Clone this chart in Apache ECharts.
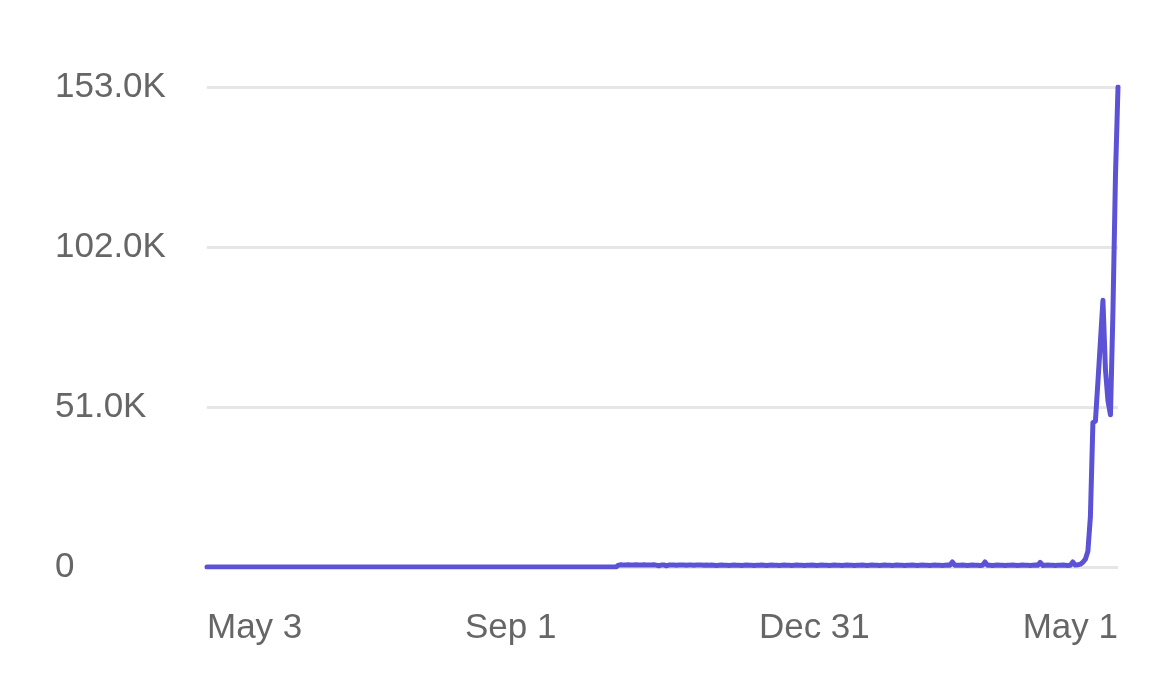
<!DOCTYPE html>
<html>
<head>
<meta charset="utf-8">
<script src="https://cdn.jsdelivr.net/npm/echarts@6/dist/echarts.min.js"></script>
<style>
  html, body { margin: 0; padding: 0; background: #ffffff; }
  #chart { width: 1170px; height: 683px; }
</style>
</head>
<body>
<div id="chart"></div>
<script>
// Daily series starting May 3 (2022) through May 1 (2023)
const startDate = [2022, 4, 3]; // year, monthIndex, day
const values = [
  0,0,0,0,0,0,0,0,0,0,0,0,0,0,0,0,0,0,0,0,
  0,0,0,0,0,0,0,0,0,0,0,0,0,0,0,0,0,0,0,0,
  0,0,0,0,0,0,0,0,0,0,0,0,0,0,0,0,0,0,0,0,
  0,0,0,0,0,0,0,0,0,0,0,0,0,0,0,0,0,0,0,0,
  0,0,0,0,0,0,0,0,0,0,0,0,0,0,0,0,0,0,0,0,
  0,0,0,0,0,0,0,0,0,0,0,0,0,0,0,0,0,0,0,0,
  0,0,0,0,0,0,0,0,0,0,0,0,0,0,0,0,0,0,0,0,
  0,0,0,0,0,0,0,0,0,0,0,0,0,0,0,0,0,0,0,0,
  0,0,0,0,600,700,600,650,700,600,650,700,650,600,700,650,600,650,700,600,
  400,600,650,400,600,650,600,550,600,650,600,550,600,600,550,600,650,600,550,600,
  550,600,550,500,550,600,550,550,500,550,600,550,550,500,550,600,550,550,500,550,
  550,600,550,500,550,600,550,550,500,550,600,550,550,500,550,600,550,550,500,550,
  550,600,550,500,550,600,550,550,500,550,600,550,550,500,550,600,550,550,500,550,
  550,600,550,500,550,600,550,550,500,550,600,550,550,500,550,600,550,550,500,550,
  550,600,550,500,550,600,550,550,500,550,600,550,550,500,550,600,550,1600,550,550,
  550,600,550,500,550,600,550,550,500,550,1600,550,550,500,550,600,550,550,500,550,
  550,600,550,500,550,600,550,550,500,550,600,550,1500,500,550,600,550,550,500,550,
  550,600,550,500,550,1600,600,700,900,1500,2500,5000,16000,46000,46500,59000,72000,85000,63000,53000,
  48500,82000,125000,153000
];
const yTicks = [0, 51000, 102000, 153000];
const monthNames = ['Jan','Feb','Mar','Apr','May','Jun','Jul','Aug','Sep','Oct','Nov','Dec'];

const categories = values.map((_, i) => {
  const d = new Date(startDate[0], startDate[1], startDate[2] + i);
  return monthNames[d.getMonth()] + ' ' + d.getDate();
});

const chart = echarts.init(document.getElementById('chart'), null, { renderer: 'canvas' });
const fontFamily = '"Liberation Sans", "Helvetica Neue", Arial, sans-serif';
chart.setOption({
  animation: false,
  backgroundColor: '#ffffff',
  grid: { left: 207, right: 52, top: 87, bottom: 116, containLabel: false },
  xAxis: {
    type: 'category',
    data: categories,
    boundaryGap: false,
    axisLine: { show: false },
    axisTick: { show: false },
    splitLine: { show: false },
    axisLabel: {
      interval: 120,
      margin: 44,
      color: '#666666',
      fontSize: 35,
      fontFamily: fontFamily,
      alignMinLabel: 'left',
      alignMaxLabel: 'right'
    }
  },
  yAxis: {
    type: 'value',
    min: yTicks[0],
    max: yTicks[yTicks.length - 1],
    interval: yTicks[1] - yTicks[0],
    axisLine: { show: false },
    axisTick: { show: false },
    splitLine: { show: true, lineStyle: { color: '#e6e6e6', width: 3 } },
    axisLabel: {
      align: 'left',
      margin: 152,
      color: '#666666',
      fontSize: 35,
      fontFamily: fontFamily,
      formatter: v => v === 0 ? '0' : (v / 1000).toFixed(1) + 'K'
    }
  },
  series: [{
    type: 'line',
    data: values,
    showSymbol: false,
    smooth: false,
    lineStyle: { color: '#5b52d6', width: 5, join: 'round', cap: 'round' },
    itemStyle: { color: '#5b52d6' }
  }]
});
</script>
</body>
</html>
